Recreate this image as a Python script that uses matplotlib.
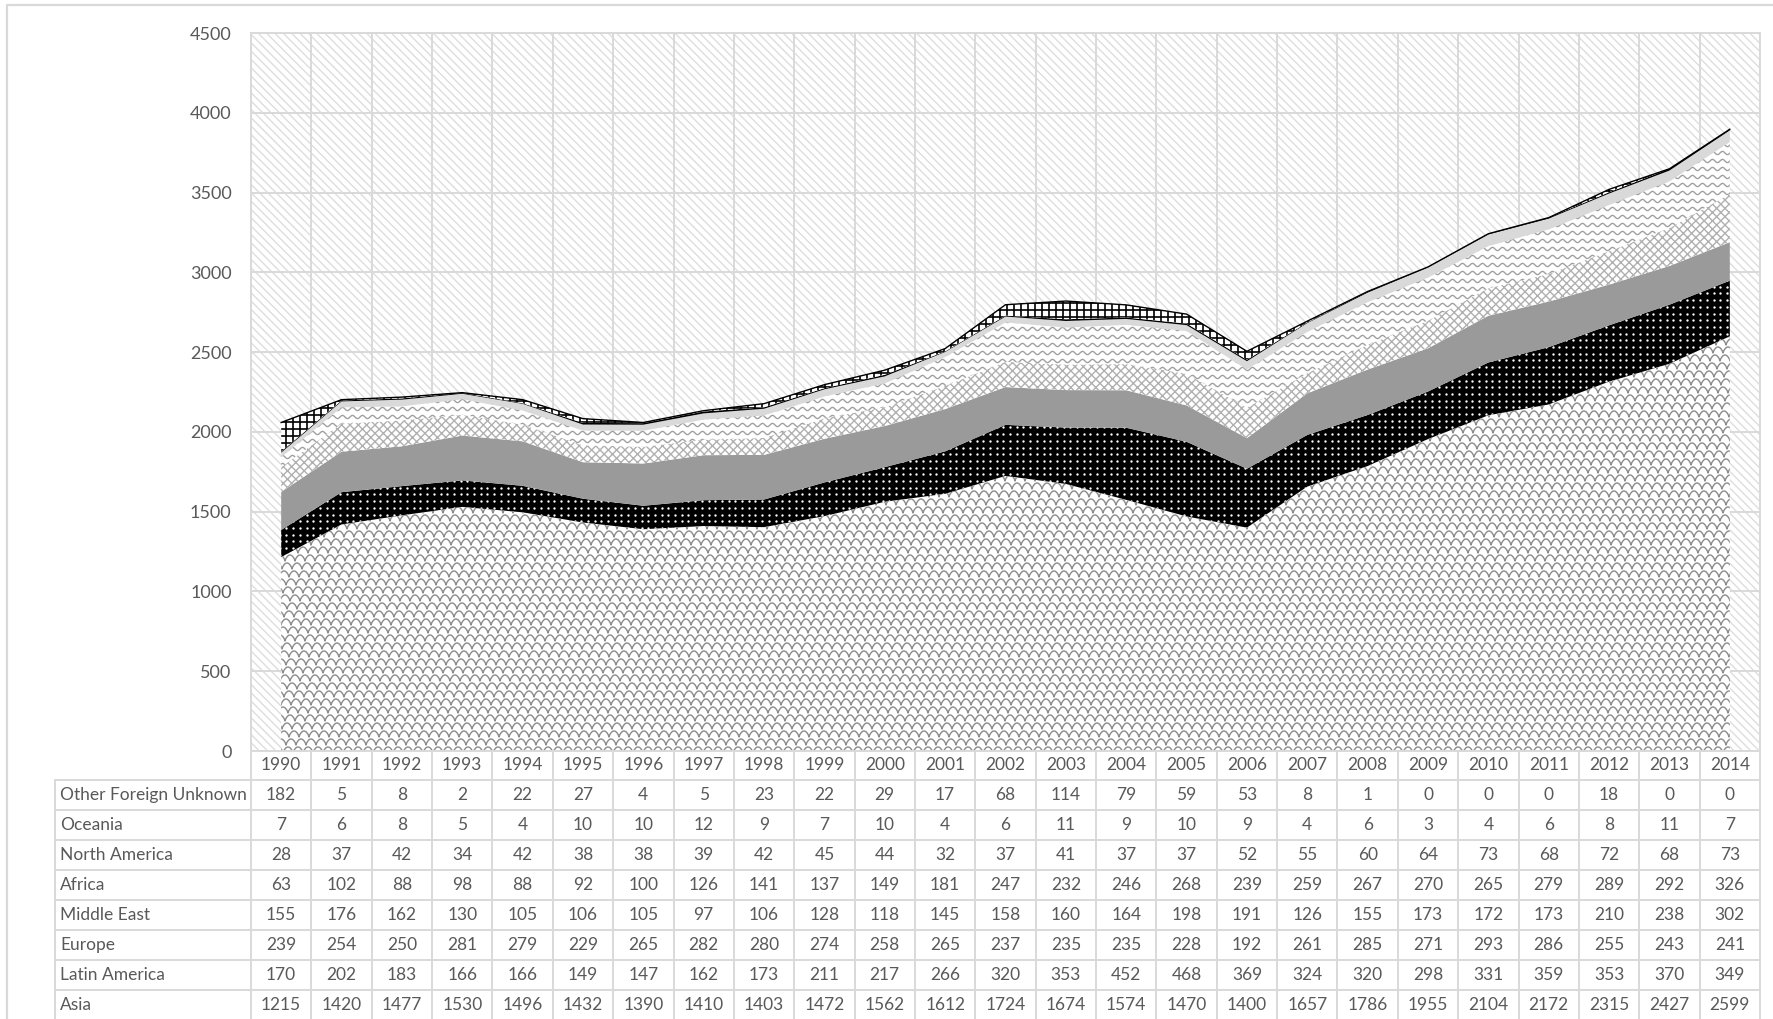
import numpy as np
import matplotlib
matplotlib.use('Agg')
import matplotlib.pyplot as plt
from matplotlib.patches import Polygon, Rectangle
from matplotlib.collections import LineCollection
from matplotlib.lines import Line2D
from matplotlib.transforms import IdentityTransform

plt.rcParams['font.family'] = ['Lato', 'DejaVu Sans']
plt.rcParams['hatch.linewidth'] = 1.0

# данные (читаются с картинки)
years = list(range(1990, 2015))
asia = [1215, 1420, 1477, 1530, 1496, 1432, 1390, 1410, 1403, 1472, 1562, 1612, 1724,
        1674, 1574, 1470, 1400, 1657, 1786, 1955, 2104, 2172, 2315, 2427, 2599]
latin_america = [170, 202, 183, 166, 166, 149, 147, 162, 173, 211, 217, 266, 320,
                 353, 452, 468, 369, 324, 320, 298, 331, 359, 353, 370, 349]
europe = [239, 254, 250, 281, 279, 229, 265, 282, 280, 274, 258, 265, 237,
          235, 235, 228, 192, 261, 285, 271, 293, 286, 255, 243, 241]
middle_east = [155, 176, 162, 130, 105, 106, 105, 97, 106, 128, 118, 145, 158,
               160, 164, 198, 191, 126, 155, 173, 172, 173, 210, 238, 302]
africa = [63, 102, 88, 98, 88, 92, 100, 126, 141, 137, 149, 181, 247,
          232, 246, 268, 239, 259, 267, 270, 265, 279, 289, 292, 326]
north_america = [28, 37, 42, 34, 42, 38, 38, 39, 42, 45, 44, 32, 37,
                 41, 37, 37, 52, 55, 60, 64, 73, 68, 72, 68, 73]
oceania = [7, 6, 8, 5, 4, 10, 10, 12, 9, 7, 10, 4, 6,
           11, 9, 10, 9, 4, 6, 3, 4, 6, 8, 11, 7]
other_unknown = [182, 5, 8, 2, 22, 27, 4, 5, 23, 22, 29, 17, 68,
                 114, 79, 59, 53, 8, 1, 0, 0, 0, 18, 0, 0]

series = [
    ('Asia', asia, 'scales'),
    ('Latin America', latin_america, 'dots'),
    ('Europe', europe, 'gray'),
    ('Middle East', middle_east, 'crosshatch'),
    ('Africa', africa, 'waves'),
    ('North America', north_america, 'lightgray'),
    ('Oceania', oceania, 'black'),
    ('Other Foreign Unknown', other_unknown, 'grid'),
]

W, H = 1773, 1019
L, R, T, B = 251, 1760, 33, 751
TXT = '#595959'
LINE = '#d9d9d9'

fig = plt.figure(figsize=(W / 100, H / 100), dpi=100)
ax = fig.add_axes([L / W, (H - B) / H, (R - L) / W, (B - T) / H])

n = len(years)
x = np.arange(n)
ax.set_xlim(-0.5, n - 0.5)
ax.set_ylim(0, 4500)

# фон с диагональной штриховкой
ax.add_patch(Rectangle((0, 0), 1, 1, transform=ax.transAxes, facecolor='white',
                       edgecolor='#dedede', hatch='\\\\\\\\', lw=0, zorder=0))
ax.set_axisbelow(True)
ax.set_yticks(range(0, 4501, 500))
ax.set_xticks(np.arange(-0.5, n, 1.0), minor=True)
ax.set_xticks([])
ax.grid(True, axis='y', color=LINE, lw=1.4)
ax.grid(True, axis='x', which='minor', color=LINE, lw=1.4)
for s in ax.spines.values():
    s.set_color(LINE)
    s.set_linewidth(1.4)
ax.tick_params(axis='y', length=0, pad=14, labelsize=13, labelcolor=TXT)
ax.tick_params(axis='x', which='both', length=0, labelbottom=False)

x0, y0, x1, y1 = ax.bbox.extents
ident = IdentityTransform()


def pattern_artist(kind):
    # узоры рисуются в пикселях и обрезаются по области
    if kind == 'scales':
        xs = np.arange(x0 - 20, x1 + 20, 0.5)
        segs = []
        for j, yj in enumerate(np.arange(y0 - 10, y1 + 10, 8)):
            shift = (j % 2) * 5 + j * 2
            ys = yj + 6 * np.abs(np.sin(np.pi * (xs + shift) / 10)) ** 0.7
            segs.append(np.column_stack([xs, ys]))
        return LineCollection(segs, colors='#8a8a8a', linewidths=1.0, transform=ident)
    if kind == 'waves':
        xs = np.arange(x0 - 20, x1 + 20, 0.5)
        segs = []
        for yj in np.arange(y0 - 10, y1 + 10, 8):
            ys = yj + 1.6 * np.sin(2 * np.pi * xs / 10)
            segs.append(np.column_stack([xs, ys]))
        return LineCollection(segs, colors='#a0a0a0', linewidths=1.0, transform=ident)
    if kind == 'grid':
        segs = [[(xv, y0), (xv, y1)] for xv in np.arange(x0, x1, 7)]
        segs += [[(x0, yv), (x1, yv)] for yv in np.arange(y0, y1, 7)]
        return LineCollection(segs, colors='black', linewidths=1.2, transform=ident)
    if kind == 'dots':
        gx, gy = np.meshgrid(np.arange(x0 + 2, x1, 6.7), np.arange(y0 + 2, y1, 6.7))
        return Line2D(gx.ravel(), gy.ravel(), linestyle='none', marker='o', ms=1.7,
                      mew=0, color='white', transform=ident)
    return None


styles = {
    'scales': dict(facecolor='white'),
    'dots': dict(facecolor='black'),
    'gray': dict(facecolor='#9a9a9a'),
    'crosshatch': dict(facecolor='white', edgecolor='#b0b0b0', hatch='xxxx'),
    'waves': dict(facecolor='white'),
    'lightgray': dict(facecolor='#d9d9d9'),
    'black': dict(facecolor='black'),
    'grid': dict(facecolor='white'),
}

base = np.zeros(n)
for name, vals, kind in series:
    top = base + np.array(vals)
    verts = np.column_stack([np.r_[x, x[::-1]], np.r_[top, base[::-1]]])
    poly = Polygon(verts, closed=True, lw=0, zorder=2, **styles[kind])
    ax.add_patch(poly)
    art = pattern_artist(kind)
    if art is not None:
        art.set_zorder(2.5)
        if isinstance(art, Line2D):
            ax.add_line(art)
        else:
            ax.add_collection(art, autolim=False)
        art.set_clip_path(poly)
    if kind == 'grid':
        ax.plot(x, top, color='black', lw=1.0, zorder=3)
    base = top

ax.set_xlim(-0.5, n - 0.5)
ax.set_ylim(0, 4500)

# таблица данных под графиком
cw = (R - L) / n
row_h = 30.05
head_bot = 780
tab_left = 55
FS = 12.5


def hline(y, xa, xb):
    fig.add_artist(Line2D([xa, xb], [H - y, H - y], color=LINE, lw=1.4, transform=ident))


def vline(xv, ya, yb):
    fig.add_artist(Line2D([xv, xv], [H - ya, H - yb], color=LINE, lw=1.4, transform=ident))


table_rows = series[::-1]
bottom = head_bot + row_h * len(table_rows)
for i in range(n + 1):
    vline(L + i * cw, B, bottom + 5)
vline(tab_left, head_bot, bottom + 5)
hline(head_bot, tab_left, R)
for i in range(1, len(table_rows) + 1):
    hline(head_bot + i * row_h, tab_left, R)

for i, yr in enumerate(years):
    fig.text(L + (i + 0.5) * cw, H - (B + head_bot) / 2, str(yr), transform=ident,
             ha='center', va='center', fontsize=FS, color=TXT)

for r, (name, vals, kind) in enumerate(table_rows):
    yc = H - (head_bot + (r + 0.5) * row_h)
    fig.text(tab_left + 5, yc, name, transform=ident, ha='left', va='center',
             fontsize=FS, color=TXT)
    for i, v in enumerate(vals):
        fig.text(L + (i + 0.5) * cw, yc, str(v), transform=ident, ha='center',
                 va='center', fontsize=FS, color=TXT)

# рамка вокруг всей диаграммы
fig.add_artist(Line2D([7, 7, W + 5], [-5, H - 5, H - 5], color=LINE, lw=1.6, transform=ident))

fig.savefig('out.png', dpi=100)
